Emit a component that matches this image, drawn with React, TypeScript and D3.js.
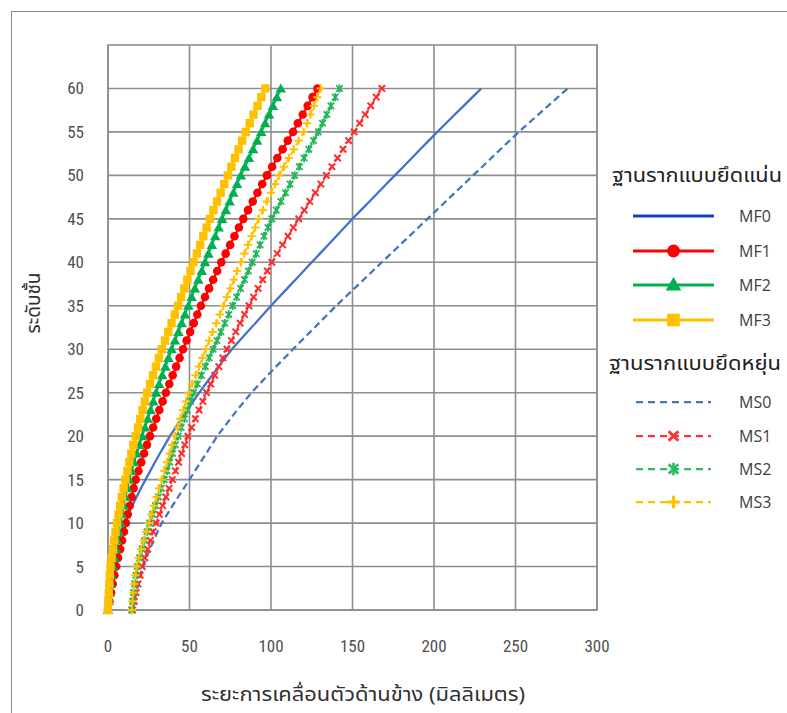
import React from "react";
import * as d3 from "d3";

const floors: number[] = d3.range(0, 61);
const xTicks = [0, 50, 100, 150, 200, 250, 300];
const yTicks = [0, 5, 10, 15, 20, 25, 30, 35, 40, 45, 50, 55, 60];

const MF0 = [0,0.3,0.8,1.3,1.9,2.5,3.6,4.9,6.3,8.0,10.0,12.4,14.9,17.5,20.2,23.0,25.9,28.8,31.8,34.9,38.0,41.5,45.0,48.6,52.3,56.0,59.9,63.8,67.8,71.9,76.0,80.8,85.6,90.4,95.2,100,105,110,115,120,125,130,135,140,145,150,155.2,160.4,165.6,170.8,176,181.2,186.4,191.6,196.8,202,207.4,212.8,218.2,223.6,229];
const MF1 = [0,0.9,1.9,2.9,3.9,5,6.2,7.4,8.6,9.8,11,12.1,13.3,14.5,15.7,17,18.7,20.4,22.1,23.9,25.8,27.7,29.6,31.5,33.5,35.5,37.6,39.7,41.8,43.9,46,48.2,50.4,52.6,54.8,57,59.5,62,64.5,67,69.5,72.2,74.9,77.6,80.3,83,85.9,88.8,91.7,94.6,97.5,100.7,103.9,107.1,110.3,113.5,116.5,119.5,122.5,125.5,128.5];
const MF2 = [0,0.5,1.1,1.7,2.3,3,3.9,4.8,5.7,6.6,7.6,8.6,9.6,10.7,11.8,13,14.5,16,17.6,19.3,21,22.7,24.4,26.1,27.8,29.5,31.4,33.3,35.2,37.1,39,41.1,43.2,45.2,47.2,49.3,51.3,53.3,55.4,57.5,59.5,61.6,63.7,65.8,67.9,70,72.3,74.6,76.9,79.2,81.5,84,86.5,89,91.5,94,96.4,98.8,101.2,103.6,106];
const MF3 = [0,0.2,0.5,0.8,1.1,1.5,2.2,3,3.8,4.6,5.5,6.5,7.5,8.5,9.6,10.7,11.9,13.1,14.3,15.6,17,18.4,19.8,21.2,22.6,24,25.8,27.6,29.4,31.2,33,35,37,39,41,43,44.9,46.8,48.7,50.6,52.5,54.5,56.5,58.5,60.5,62.5,64.7,66.9,69.1,71.3,73.5,75.7,77.9,80.1,82.3,84.5,86.9,89.3,91.7,94.1,96.5];
const MS0 = [15,16.2,17.4,18.7,20.1,21.5,23.5,25.7,28,30.4,33,36.3,39.6,43,46.5,50,53.4,56.8,60.2,63.6,67,71,75.1,79.3,83.6,88,93,98,103.1,108.3,113.5,118.8,124.1,129.4,134.7,140,145.6,151.2,156.8,162.4,168,173.6,179.2,184.8,190.4,196,201.6,207.2,212.8,218.4,224,229.6,235.2,240.8,246.4,252,258,264,270,276,282];
const MS1 = [15,16.1,17.2,18.4,19.7,21,22.6,24.3,26,27.7,29.5,31.5,33.5,35.5,37.5,39.5,41.4,43.3,45.2,47.1,49,51.3,53.6,55.9,58.2,60.5,63,65.5,68,70.5,73,75.7,78.4,81.1,83.8,86.5,89.3,92.1,94.9,97.7,100.5,103.8,107.1,110.4,113.7,117,120.4,123.8,127.2,130.6,134,137.4,140.8,144.2,147.6,151,154.4,157.8,161.2,164.6,168];
const MS2 = [14.5,15.1,15.7,16.4,17.2,18,19.4,20.9,22.4,23.9,25.5,27.3,29.1,30.9,32.7,34.5,36.2,37.9,39.6,41.3,43,44.9,46.8,48.7,50.6,52.5,54.9,57.3,59.7,62.1,64.5,66.9,69.3,71.7,74.1,76.5,78.9,81.3,83.7,86.1,88.5,90.9,93.3,95.7,98.1,100.5,103.3,106.1,108.9,111.7,114.5,117.4,120.3,123.2,126.1,129,131.6,134.2,136.8,139.4,142];
const MS3 = [14.5,15,15.5,16.1,16.8,17.5,18.9,20.4,21.9,23.4,25,26.6,28.2,29.8,31.4,33,34.6,36.2,37.8,39.4,41,42.7,44.4,46.1,47.8,49.5,51.6,53.7,55.8,57.9,60,62.1,64.2,66.4,68.6,70.7,72.9,75.1,77.2,79.3,81.5,83.7,85.9,88.1,90.3,92.5,95,97.5,100,102.5,105,108,111,114,117,120,122.1,124.2,126.3,128.4,130.5];

const seriesNames = ["MF0", "MF1", "MF2", "MF3", "MS0", "MS1", "MS2", "MS3"];
const seriesValues = [MF0, MF1, MF2, MF3, MS0, MS1, MS2, MS3];

type Marker = "none" | "circle" | "triangle" | "square" | "x" | "star" | "plus";
interface Style { color: string; legendColor: string; dashed: boolean; width: number; marker: Marker; }
const styles: Style[] = [
  { color: "#4070CC", legendColor: "#1540C0", dashed: false, width: 2.25, marker: "none" },
  { color: "#FF0000", legendColor: "#FF0000", dashed: false, width: 2.25, marker: "circle" },
  { color: "#00B050", legendColor: "#00B050", dashed: false, width: 2.25, marker: "triangle" },
  { color: "#FFC000", legendColor: "#FFC000", dashed: false, width: 2.25, marker: "square" },
  { color: "#4472C4", legendColor: "#4472C4", dashed: true, width: 2.25, marker: "none" },
  { color: "#FF2A2A", legendColor: "#FF3333", dashed: true, width: 1.75, marker: "x" },
  { color: "#22B55A", legendColor: "#2EBB62", dashed: true, width: 1.75, marker: "star" },
  { color: "#FFC000", legendColor: "#FFC000", dashed: true, width: 1.75, marker: "plus" },
];

const THAI = "'Leelawadee UI', Tahoma, 'Noto Sans Thai', 'Noto Sans', 'DejaVu Sans', sans-serif";
const NUM = "'Liberation Sans Narrow', 'Roboto Condensed', 'Noto Sans', sans-serif";

function MarkerShape({ kind, cx, cy, color, scale = 1 }: { kind: Marker; cx: number; cy: number; color: string; scale?: number }) {
  const s = scale;
  switch (kind) {
    case "circle":
      return <circle cx={cx} cy={cy} r={4.3 * s} fill={color} />;
    case "triangle": {
      const p = d3.symbol().type(d3.symbolTriangle).size(48 * s * s)();
      return <path d={p || ""} transform={`translate(${cx},${cy + 1})`} fill={color} />;
    }
    case "square":
      return <rect x={cx - 4.2 * s} y={cy - 4.2 * s} width={8.4 * s} height={8.4 * s} fill={color} />;
    case "x": {
      const r = 3.2 * s;
      return (
        <g stroke={color} strokeWidth={2 * s}>
          <line x1={cx - r} y1={cy - r} x2={cx + r} y2={cy + r} />
          <line x1={cx - r} y1={cy + r} x2={cx + r} y2={cy - r} />
        </g>
      );
    }
    case "star": {
      const r = 3.2 * s;
      return (
        <g stroke={color} strokeWidth={1.8 * s}>
          <line x1={cx - r} y1={cy - r} x2={cx + r} y2={cy + r} />
          <line x1={cx - r} y1={cy + r} x2={cx + r} y2={cy - r} />
          <line x1={cx} y1={cy - r * 1.3} x2={cx} y2={cy + r * 1.3} />
        </g>
      );
    }
    case "plus": {
      const r = 4.2 * s;
      return (
        <g stroke={color} strokeWidth={2 * s}>
          <line x1={cx - r} y1={cy} x2={cx + r} y2={cy} />
          <line x1={cx} y1={cy - r} x2={cx} y2={cy + r} />
        </g>
      );
    }
    default:
      return null;
  }
}

export default function App() {
  const W = 787, H = 713;
  const left = 108, right = 597, top = 45, bottom = 610;
  const x = d3.scaleLinear().domain([0, 300]).range([left, right]);
  const y = d3.scaleLinear().domain([0, 65]).range([bottom, top]);
  const line = d3.line<number>().x((d) => x(d)).y((_, i) => y(floors[i]));
  const grid = "#8E8E8E";

  const legendRows = [216, 251, 285, 320, 402, 436, 469, 502];

  return (
    <svg width={W} height={H} style={{ position: "absolute", left: 0, top: 0, background: "#fff" }}>
      <rect x={0} y={0} width={W} height={H} fill="#fff" />
      <rect x={11.5} y={11.5} width={W + 20} height={H + 20} fill="none" stroke="#8A8A8A" strokeWidth={1} />

      {/* gridlines */}
      {yTicks.map((t) => (
        <line key={"gy" + t} x1={left} x2={right} y1={y(t)} y2={y(t)} stroke={grid} strokeWidth={1.6} />
      ))}
      {xTicks.map((t) => (
        <line key={"gx" + t} x1={x(t)} x2={x(t)} y1={top} y2={bottom} stroke={grid} strokeWidth={1.6} />
      ))}
      <rect x={left} y={top} width={right - left} height={bottom - top} fill="none" stroke={grid} strokeWidth={1.6} />

      {/* tick labels */}
      {yTicks.map((t) => (
        <text key={"ly" + t} x={84} y={y(t) + 6} textAnchor="end" fontFamily={NUM} fontSize={17} fill="#505050">
          {t}
        </text>
      ))}
      {xTicks.map((t) => (
        <text key={"lx" + t} x={x(t)} y={652} textAnchor="middle" fontFamily={NUM} fontSize={17} fill="#505050">
          {t}
        </text>
      ))}

      {/* axis titles */}
      <text x={363} y={701} textAnchor="middle" fontFamily={THAI} fontSize={19} fill="#303030" textLength={324} lengthAdjust="spacingAndGlyphs">
        ระยะการเคลื่อนตัวด้านข้าง (มิลลิเมตร)
      </text>
      <text transform="translate(40,303) rotate(-90)" textAnchor="middle" fontFamily={THAI} fontSize={19} fill="#303030">
        ระดับชั้น
      </text>

      {/* series */}
      {seriesValues.map((vals, si) => {
        const st = styles[si];
        return (
          <g key={seriesNames[si]}>
            <path d={line(vals) || ""} fill="none" stroke={st.color} strokeWidth={st.width} strokeDasharray={st.dashed ? "7,4" : undefined} />
            {st.marker !== "none" &&
              vals.map((v, i) => <MarkerShape key={i} kind={st.marker} cx={x(v)} cy={y(floors[i])} color={st.color} />)}
          </g>
        );
      })}

      {/* legend */}
      <text x={612} y={182} fontFamily={THAI} fontSize={19} fill="#202020" textLength={170} lengthAdjust="spacingAndGlyphs">
        ฐานรากแบบยึดแน่น
      </text>
      <text x={609} y={370} fontFamily={THAI} fontSize={19} fill="#202020" textLength={172} lengthAdjust="spacingAndGlyphs">
        ฐานรากแบบยึดหยุ่น
      </text>
      {seriesNames.map((name, si) => {
        const st = styles[si];
        const cy = legendRows[si];
        const x1 = st.dashed ? 636 : 633;
        const x2 = st.dashed ? 711 : 714;
        return (
          <g key={"lg" + name}>
            <line x1={x1} x2={x2} y1={cy} y2={cy} stroke={st.legendColor} strokeWidth={st.dashed ? 2.25 : 3} strokeDasharray={st.dashed ? "7,5" : undefined} />
            {st.marker !== "none" && <MarkerShape kind={st.marker} cx={673.5} cy={cy} color={st.legendColor} scale={1.5} />}
            <text x={739} y={cy + 6} fontFamily="'Segoe UI', 'Open Sans', 'Noto Sans', sans-serif" fontSize={16} fill="#404040">
              {name}
            </text>
          </g>
        );
      })}
    </svg>
  );
}
